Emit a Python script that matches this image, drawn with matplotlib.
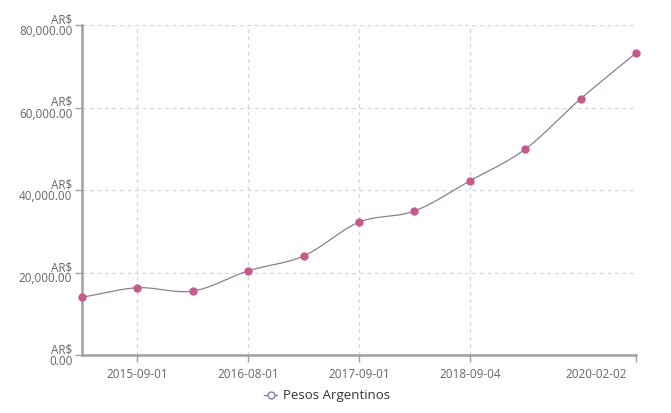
import numpy as np
import matplotlib
matplotlib.use("Agg")
import matplotlib.pyplot as plt
import matplotlib.transforms as mtransforms
from matplotlib.lines import Line2D

plt.rcParams['font.family'] = ['Open Sans', 'DejaVu Sans']

# data (ARS)
fechas = ['2015-03-01', '2015-09-01', '2016-02-01', '2016-08-01', '2017-02-01', '2017-09-01',
          '2018-02-01', '2018-09-04', '2019-03-01', '2019-09-01', '2020-02-02']
pesos = [14000, 16300, 15500, 20400, 24000, 32200, 34900, 42200, 49900, 62100, 73200]
ticks_idx = [1, 3, 5, 7, 10]
y_ticks = [0, 20000, 40000, 60000, 80000]


def catmull_rom(x, y, n=20):
    # smooth curve through the points, like the original chart library
    x = np.asarray(x, float)
    y = np.asarray(y, float)
    px = np.concatenate([[2 * x[0] - x[1]], x, [2 * x[-1] - x[-2]]])
    py = np.concatenate([[2 * y[0] - y[1]], y, [2 * y[-1] - y[-2]]])
    xs, ys = [], []
    t = np.linspace(0, 1, n, endpoint=False)
    for i in range(1, len(px) - 2):
        for p, out in ((px, xs), (py, ys)):
            p0, p1, p2, p3 = p[i - 1], p[i], p[i + 1], p[i + 2]
            out.extend(0.5 * (2 * p1 + (-p0 + p2) * t + (2 * p0 - 5 * p1 + 4 * p2 - p3) * t ** 2
                              + (-p0 + 3 * p1 - 3 * p2 + p3) * t ** 3))
    xs.append(x[-1])
    ys.append(y[-1])
    return np.array(xs), np.array(ys)


fig = plt.figure(figsize=(6.71, 4.13), dpi=100)
ax = fig.add_axes([82 / 671, 1 - 355 / 413, (636 - 82) / 671, (355 - 25) / 413])

x = np.arange(len(pesos))
sx, sy = catmull_rom(x, pesos)
ax.plot(sx, sy, color='#8c7f8f', lw=0.9, zorder=2)
ax.plot(x, pesos, 'o', color='#c65a8b', ms=5, zorder=3, clip_on=False)

ax.set_xlim(0, len(pesos) - 1)
ax.set_ylim(0, 80000)
ax.set_yticks(y_ticks)
ax.set_yticklabels(['AR$\n{:,.2f}'.format(v) for v in y_ticks], linespacing=0.85)
ax.set_xticks(ticks_idx)
ax.set_xticklabels([fechas[i] for i in ticks_idx])

ax.grid(True, color='#d4d4d4', ls=(0, (3, 3)), lw=0.9)
for s in ['top', 'right']:
    ax.spines[s].set_visible(False)
for s in ['left', 'bottom']:
    ax.spines[s].set_color('#a0a0a0')
    ax.spines[s].set_linewidth(1.8)
ax.tick_params(colors='#a0a0a0', labelcolor='#666666', labelsize=8.5, length=5, width=1)
ax.tick_params(axis='x', pad=4)
ax.tick_params(axis='y', pad=2)

# last date label is pulled inside the chart, right aligned
last = ax.get_xticklabels()[-1]
last.set_ha('right')
last.set_transform(last.get_transform() + mtransforms.ScaledTranslation(-9 / 100, 0, fig.dpi_scale_trans))

handle = Line2D([], [], color='#8a78b0', lw=1, marker='o', ms=5, mfc='white', mec='#8a78b0')
fig.legend([handle], ['Pesos Argentinos'], loc='center', bbox_to_anchor=(327 / 671, 1 - 396 / 413),
           frameon=False, fontsize=9.5, handlelength=1.0, handletextpad=0.4, labelcolor='#333333')

fig.savefig('out.png', dpi=100)
